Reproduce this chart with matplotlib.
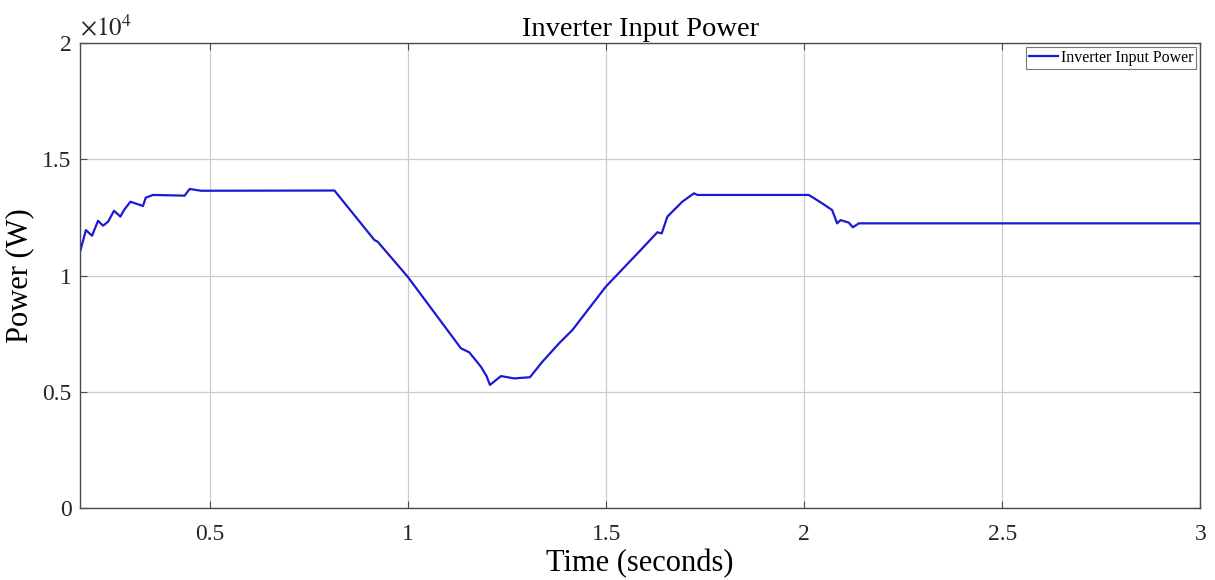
import matplotlib
matplotlib.use('Agg')
import matplotlib.pyplot as plt
from matplotlib.ticker import FuncFormatter

# inverter input power over time (W)
t = [0.172, 0.187, 0.2025, 0.2177, 0.2303, 0.2429, 0.258, 0.2741, 0.2832,
     0.2993, 0.3311, 0.3379, 0.3563, 0.4362, 0.4488, 0.4783, 0.8143,
     0.9152, 0.9235, 0.9991, 1.1337, 1.1546, 1.1841, 1.1983, 1.2068,
     1.2346, 1.2681, 1.3077, 1.3394, 1.3815, 1.415, 1.4992, 1.5832,
     1.6293, 1.6404, 1.6545, 1.6923, 1.7218, 1.7302, 2.0117, 2.0453,
     2.0705, 2.0831, 2.0917, 2.1126, 2.1227, 2.1378, 3.0]
p = [11000, 11950, 11710, 12350, 12140, 12310, 12780, 12530, 12810,
     13170, 12985, 13340, 13460, 13430, 13716, 13640, 13650,
     11525, 11450, 9950, 6870, 6700, 6080, 5680, 5300,
     5680, 5580, 5630, 6300, 7090, 7660, 9520, 11020,
     11856, 11810, 12526, 13170, 13530, 13460, 13460, 13100,
     12810, 12240, 12380, 12270, 12070, 12240, 12240]

xticks = [0.5, 1, 1.5, 2, 2.5, 3]
yticks = [0, 5000, 10000, 15000, 20000]

plt.rcParams['font.family'] = 'Liberation Serif'
plt.rcParams['mathtext.fontset'] = 'stix'

fig = plt.figure(figsize=(12.15, 5.8), dpi=100)
ax = fig.add_axes([0.0658, 0.1236, 0.9222, 0.8028])

ax.plot(t, p, color='#1a1ad6', lw=1.6, label='Inverter Input Power')

ax.set_xlim(0.172, 3.0)
ax.set_ylim(0, 20000)
ax.set_xticks(xticks)
ax.set_yticks(yticks)
ax.yaxis.set_major_formatter(FuncFormatter(lambda v, pos: '%g' % (v / 1e4)))
ax.xaxis.set_major_formatter(FuncFormatter(lambda v, pos: '%g' % v))

ax.grid(True, color='#cdcdcd', lw=0.9)
ax.set_axisbelow(True)
for s in ax.spines.values():
    s.set_color('#4a4a4a')
    s.set_linewidth(1.0)
ax.tick_params(direction='in', length=5, top=True, right=True,
               colors='#4a4a4a', labelcolor='#262626', labelsize=17)
ax.tick_params(axis='x', pad=11)
ax.tick_params(axis='y', pad=6)

ax.set_xlabel('Time (seconds)', fontsize=22, labelpad=3)
ax.set_ylabel('Power (W)', fontsize=22, labelpad=6)
ax.set_title('Inverter Input Power', fontsize=20.5, pad=5)
ax.text(0.0, 1.005, r'$\times10^{4}$', transform=ax.transAxes,
        fontsize=18, ha='left', va='bottom', color='#262626')

leg = ax.legend(loc='upper right', fontsize=11.5, frameon=True, fancybox=False,
                borderaxespad=0.25, handlelength=1.8, handletextpad=0.2,
                borderpad=0.2)
leg.get_frame().set_edgecolor('#555555')
leg.get_frame().set_linewidth(0.8)

fig.savefig('out.png', dpi=100)
